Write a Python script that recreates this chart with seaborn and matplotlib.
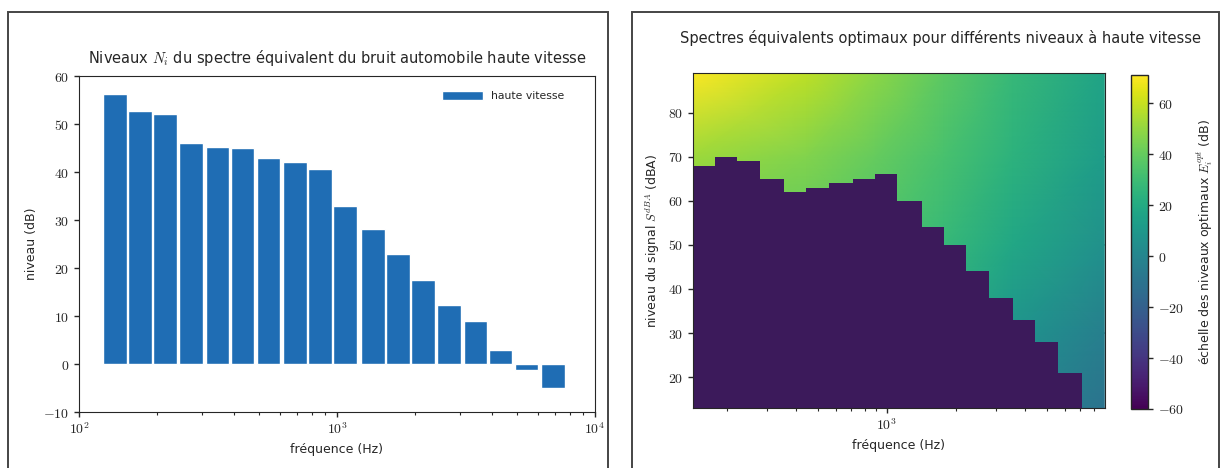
import numpy as np
import matplotlib
matplotlib.use("Agg")
import matplotlib.pyplot as plt
from matplotlib.ticker import FuncFormatter, NullFormatter, LogLocator
from matplotlib.patches import Rectangle
import seaborn as sns

sns.set_style("ticks")
plt.rcParams["font.family"] = ["DejaVu Sans"]
plt.rcParams["mathtext.fontset"] = "cm"

# bandes de tiers d'octave (Hz)
bandes = [160, 200, 250, 315, 400, 500, 630, 800, 1000, 1250,
          1600, 2000, 2500, 3150, 4000, 5000, 6300, 8000]
# niveaux N_i du spectre equivalent (dB)
niveaux = [56.2, 52.8, 52.1, 46.0, 45.2, 44.9, 42.9, 42.1, 40.7, 33.0,
           28.2, 22.9, 17.4, 12.2, 8.9, 2.9, -1.3, -5.0]
# niveau du signal sous lequel E_opt est au minimum (dBA)
seuil = [68, 70, 69, 65, 62, 63, 64, 65, 66, 60, 54, 50, 44, 38, 33, 28, 21, 13]

f_grille = [141, 447, 891, 1778, 3548, 8913]
s_grille = [13, 30, 50, 70, 89]
e_opt = [
    [25, 20, 15, 10, 0, -10],
    [30, 28, 25, 20, 8, -4],
    [40, 38, 34, 28, 18, 6],
    [52, 46, 40, 33, 24, 12],
    [70, 58, 48, 38, 28, 16],
]
e_min, e_max = -60, 71

bandes = np.array(bandes, dtype=float)
bords = np.append(bandes * 10 ** -0.05, bandes[-1] * 10 ** 0.05)

W, H = 1224, 468
fig = plt.figure(figsize=(W / 100, H / 100), dpi=100)

def fx(px):
    return px / W

def fy(py):
    return 1 - py / H

int_fmt = FuncFormatter(lambda v, p: r"$%d$" % round(v))
log_fmt = FuncFormatter(lambda v, p: r"$10^{%d}$" % round(np.log10(v)))

# cadres des deux figures
for x0, x1 in [(8, 608), (632, 1219)]:
    fig.add_artist(Rectangle((fx(x0), -0.05), fx(x1 - x0), fy(12) + 0.05,
                             transform=fig.transFigure, fill=False,
                             ec="#454545", lw=1.4))

# ---- gauche : barres
ax1 = fig.add_axes([fx(79), fy(412), fx(595 - 79), fy(76) - fy(412)])
centres = bords[:-1] * 10 ** -0.015
gauche = centres * 10 ** -0.046
droite = centres * 10 ** 0.046
ax1.bar(gauche, niveaux, width=droite - gauche, align="edge",
        color="#1f6db4", label="haute vitesse")
ax1.set_xscale("log")
ax1.set_xlim(100, 10000)
ax1.set_ylim(-10, 60)
ax1.xaxis.set_major_formatter(log_fmt)
ax1.xaxis.set_minor_formatter(NullFormatter())
ax1.yaxis.set_major_formatter(int_fmt)
ax1.set_title(r"Niveaux $N_i$ du spectre équivalent du bruit automobile haute vitesse",
              fontsize=10.5, pad=9)
ax1.set_xlabel("fréquence (Hz)", fontsize=9)
ax1.set_ylabel("niveau (dB)", fontsize=9)
ax1.legend(loc="upper right", bbox_to_anchor=(0.96, 0.985), frameon=False,
           fontsize=7.8, handlelength=3.8, handleheight=1.0, handletextpad=0.8)

# ---- droite : carte des niveaux optimaux
ax2 = fig.add_axes([fx(693), fy(408), fx(1105 - 693), fy(73) - fy(408)])
cmap = sns.color_palette("viridis", as_cmap=True)
mesh = ax2.pcolormesh(f_grille, s_grille, e_opt, shading="gouraud",
                      cmap=cmap, vmin=e_min, vmax=e_max)
ax2.fill_between(bords, np.append(seuil, seuil[-1]), 0, step="post",
                 color="#3c1a5b", lw=0)
ax2.set_xscale("log")
ax2.set_xlim(bords[0], bords[-1])
ax2.set_ylim(13, 89)
ax2.xaxis.set_major_locator(LogLocator(base=10))
ax2.xaxis.set_major_formatter(log_fmt)
ax2.xaxis.set_minor_formatter(NullFormatter())
ax2.yaxis.set_major_formatter(int_fmt)
ax2.set_yticks([20, 30, 40, 50, 60, 70, 80])
ax2.set_xlabel("fréquence (Hz)", fontsize=9)
ax2.set_ylabel(r"niveau du signal $S^{dBA}$ (dBA)", fontsize=9)
fig.text(fx(941), fy(38), "Spectres équivalents optimaux pour différents niveaux à haute vitesse",
         ha="center", va="center", fontsize=10.5)

cax = fig.add_axes([fx(1131), fy(409), fx(17), fy(75) - fy(409)])
cb = fig.colorbar(mesh, cax=cax)
cb.set_ticks([-60, -40, -20, 0, 20, 40, 60])
cb.ax.yaxis.set_major_formatter(int_fmt)
cb.outline.set_linewidth(1.0)
cb.set_label(r"échelle des niveaux optimaux $E_i^{opt}$ (dB)", fontsize=9, labelpad=8)

for ax in (ax1, ax2, cax):
    ax.tick_params(which="major", direction="out", length=3.5, width=1, labelsize=10)
    ax.tick_params(which="minor", direction="out", length=2, width=0.8)

fig.savefig("out.png", dpi=100)
